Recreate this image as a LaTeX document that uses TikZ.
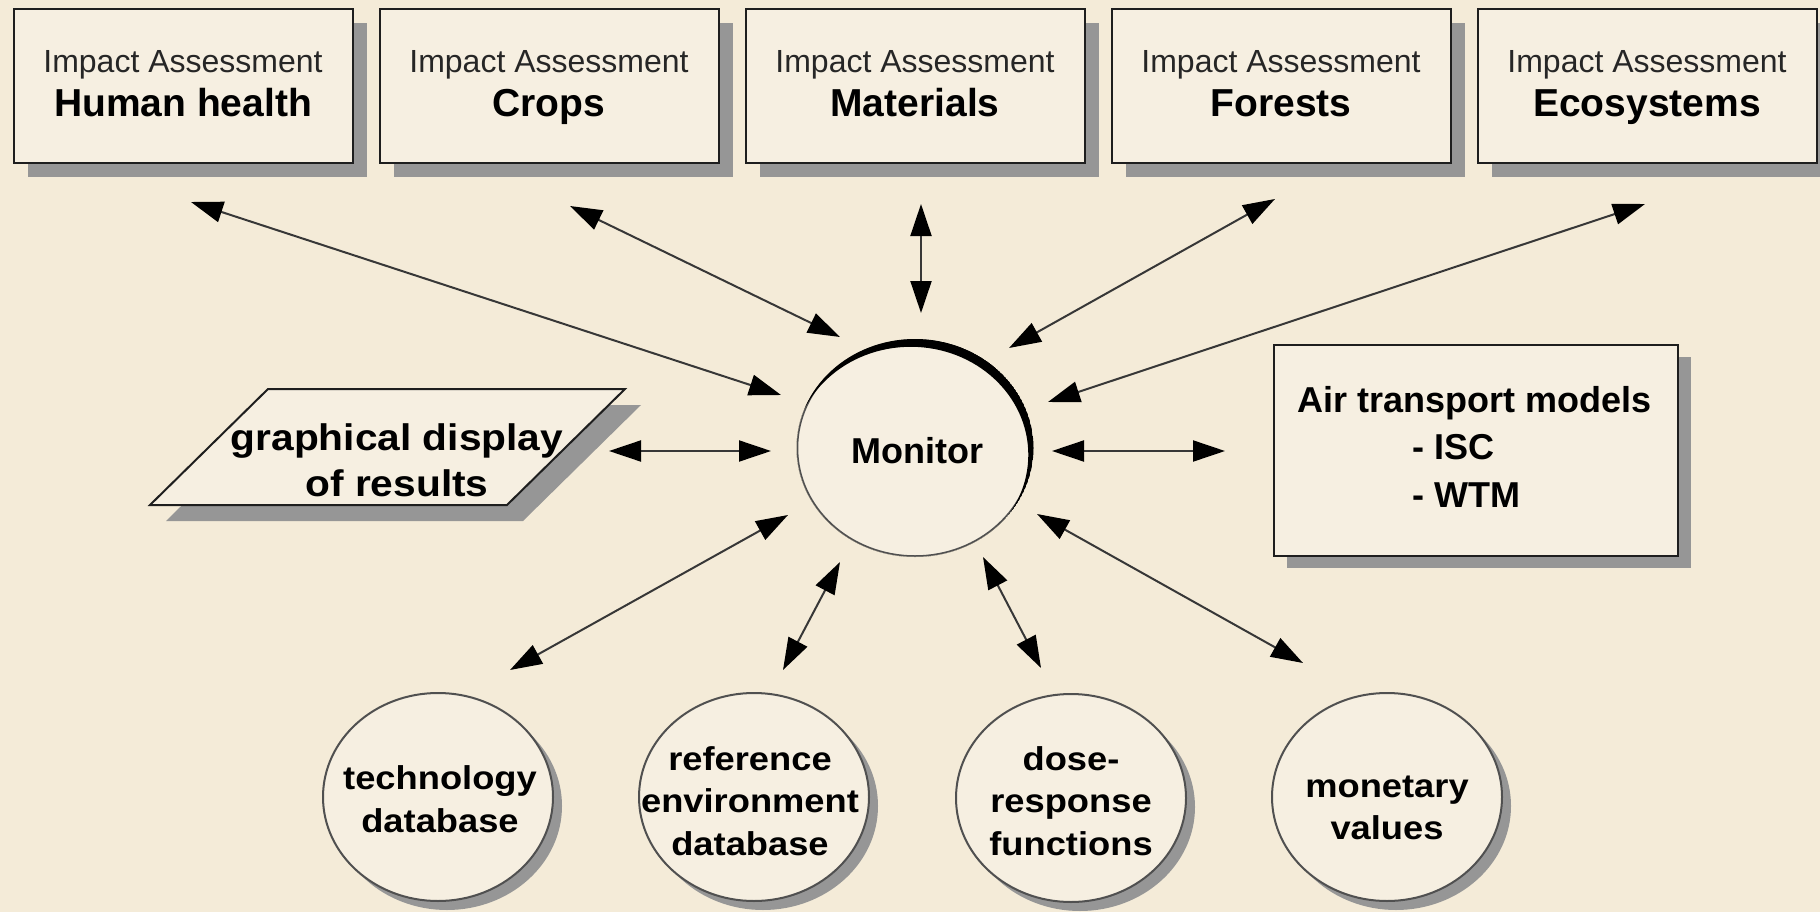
\documentclass[tikz,border=0pt]{standalone}
\usepackage{fontspec}
\setmainfont{Liberation Sans}
\newfontfamily\widebold[FakeStretch=1.1]{Liberation Sans Bold}
\usetikzlibrary{arrows.meta,shapes.geometric,shadows,calc}

\definecolor{bgcol}{RGB}{244,235,216}
\definecolor{boxfill}{RGB}{246,239,225}
\definecolor{shadowgray}{RGB}{150,150,150}
\definecolor{edgecol}{RGB}{30,30,30}
\definecolor{ellcol}{RGB}{80,80,80}
\definecolor{arrcol}{RGB}{55,55,55}

\begin{document}
\begin{tikzpicture}[x=1pt,y=-1pt,
  ibox/.style={rectangle, draw=edgecol, line width=2pt, fill=boxfill,
    minimum width=339pt, minimum height=154pt, inner sep=0pt,
    drop shadow={shadow xshift=14pt, shadow yshift=-14pt, fill=shadowgray, opacity=1}},
  iatext/.style={font=\fontsize{32}{36}\selectfont, text=black!85, inner sep=0pt, anchor=base},
  iabold/.style={font=\fontsize{39}{44}\selectfont\bfseries, inner sep=0pt, anchor=base},
  airtext/.style={font=\fontsize{36}{40}\selectfont\bfseries, inner sep=0pt},
  dbell/.style={ellipse, draw=ellcol, line width=2pt, fill=boxfill,
    minimum width=230pt, minimum height=208pt, inner sep=0pt,
    drop shadow={shadow xshift=9pt, shadow yshift=-9pt, fill=shadowgray, opacity=1}},
  dbtext/.style={inner sep=0pt, align=center, font=\widebold\fontsize{33}{42.5}\selectfont},
  arr/.style={draw=arrcol, line width=2pt,
    >={Triangle[length=32pt,width=21pt,color=black]}, <->},
]
\useasboundingbox (0,0) rectangle (1820,912);
\fill[bgcol] (0,0) rectangle (1820,912);

% top boxes
\node[ibox] (hh) at (183,86) {};
\node[ibox] (cr) at (549,86) {};
\node[ibox] (ma) at (915,86) {};
\node[ibox] (fo) at (1281,86) {};
\node[ibox] (ec) at (1647,86) {};

\node[iatext] (hhs) at ($(hh.north)+(0,65)$) {Impact Assessment};
\node[iabold] (hhb) at ($(hh.north)+(0,109)$) {Human health};
\node[iatext] (crs) at ($(cr.north)+(0,65)$) {Impact Assessment};
\node[iabold] (crb) at ($(cr.north)+(0,109)$) {Crops};
\node[iatext] (mas) at ($(ma.north)+(0,65)$) {Impact Assessment};
\node[iabold] (mab) at ($(ma.north)+(0,109)$) {Materials};
\node[iatext] (fos) at ($(fo.north)+(0,65)$) {Impact Assessment};
\node[iabold] (fob) at ($(fo.north)+(0,109)$) {Forests};
\node[iatext] (ecs) at ($(ec.north)+(0,65)$) {Impact Assessment};
\node[iabold] (ecb) at ($(ec.north)+(0,109)$) {Ecosystems};

% monitor
\node[ellipse, draw=ellcol, line width=1.5pt, fill=boxfill, minimum width=235pt,
  minimum height=216pt, inner sep=0pt] (mon) at (915,448) {};
\node[font=\fontsize{36}{40}\selectfont\bfseries, inner sep=0pt] (mont) at ($(mon.center)+(2,3)$) {Monitor};
\begin{scope}
  \clip (mon.center) ellipse [x radius=118.5pt, y radius=109pt];
  \fill[black, even odd rule] (mon.center) ellipse [x radius=118.5pt, y radius=109pt]
    ($(mon.center)+(-4.2,6.8)$) ellipse [x radius=117.5pt, y radius=108pt];
\end{scope}

% parallelogram
\coordinate (gdc) at (387,447);
\fill[shadowgray] ($(gdc)+(-103,-42)$) -- ($(gdc)+(254,-42)$) -- ($(gdc)+(136,74)$) -- ($(gdc)+(-221,74)$) -- cycle;
\draw[edgecol, line width=2pt, fill=boxfill, line join=miter]
  ($(gdc)+(-119,-58)$) -- ($(gdc)+(238,-58)$) -- ($(gdc)+(120,58)$) -- ($(gdc)+(-237,58)$) -- cycle;
\node[font=\widebold\fontsize{37}{46}\selectfont, align=center, inner sep=0pt]
  (gd) at ($(gdc)+(10,13)$) {graphical display\\of results};

% air transport box
\node[rectangle, draw=edgecol, line width=2pt, fill=boxfill, minimum width=404pt,
  minimum height=211pt, inner sep=0pt,
  drop shadow={shadow xshift=13pt, shadow yshift=-12pt, fill=shadowgray, opacity=1}]
  (air) at (1476,450.5) {};
\node[airtext, anchor=base] (airl1) at ($(air.north)+(-1,68)$) {Air transport models};
\node[airtext, anchor=base west] (airl2) at ($(air.north west)+(139,115)$) {- ISC};
\node[airtext, anchor=base west] (airl3) at ($(air.north west)+(139,163)$) {- WTM};

% bottom ellipses
\node[dbell] (tech) at (438,797) {};
\node[dbell] (refe) at (754,797) {};
\node[dbell] (dose) at (1071,798) {};
\node[dbell] (mone) at (1387,797) {};
\node[dbtext] (techt) at ($(tech.center)+(2,2)$) {technology\\database};
\node[dbtext] (refet) at ($(refe.center)+(-4,4)$) {reference\\environment\\database};
\node[dbtext] (doset) at ($(dose.center)+(0,3)$) {dose-\\response\\functions};
\node[dbtext] (monet) at ($(mone.center)+(0,11)$) {monetary\\values};

% connectors
\draw[arr] ($(hh.south)+(8,38)$) -- ($(mon.center)+(-134,-53)$);
\draw[arr] ($(cr.south)+(21,42)$) -- ($(mon.center)+(-75,-111)$);
\draw[arr] ($(ma.south)+(6,40)$) -- ($(mon.center)+(6,-135)$);
\draw[arr] ($(fo.south)+(-6,35)$) -- ($(mon.center)+(94,-100)$);
\draw[arr] ($(ec.south)+(-2,40)$) -- ($(mon.center)+(133,-46)$);
\draw[arr] ($(gdc)+(222,4)$) -- ($(mon.center)+(-144,3)$);
\draw[arr] ($(mon.center)+(137,3)$) -- ($(air.west)+(-48,0.5)$);
\draw[arr] ($(tech.north)+(72,-22)$) -- ($(mon.center)+(-127,67)$);
\draw[arr] ($(refe.north)+(29,-22)$) -- ($(mon.center)+(-75,114)$);
\draw[arr] ($(dose.north)+(-30,-25)$) -- ($(mon.center)+(68,109)$);
\draw[arr] ($(mone.north)+(-84,-29)$) -- ($(mon.center)+(122,66)$);
\end{tikzpicture}
\end{document}
